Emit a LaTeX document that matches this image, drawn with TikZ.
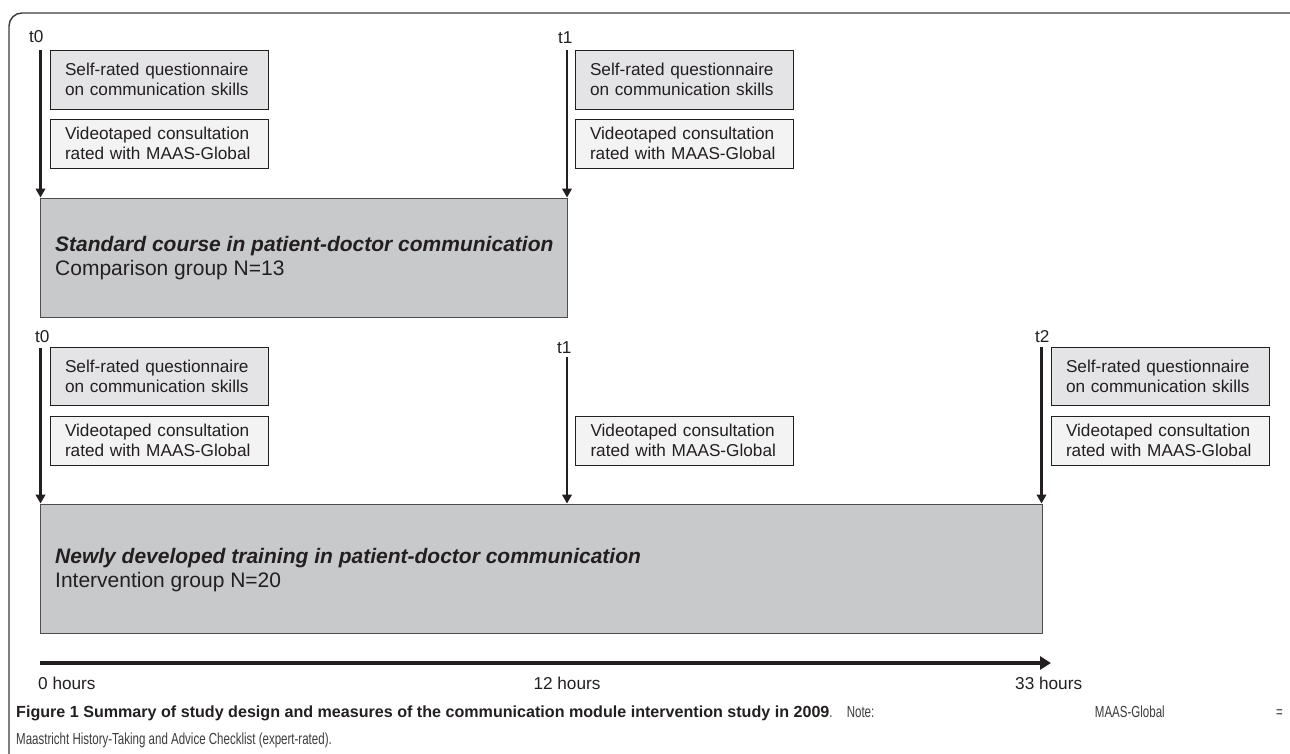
\documentclass[tikz,border=0pt]{standalone}
\usepackage{fontspec}
\setmainfont{Liberation Sans}
\newfontfamily\capfont[FakeStretch=0.72]{Liberation Sans}
\usetikzlibrary{arrows.meta}
\definecolor{ink}{HTML}{231F20}
\definecolor{rectgray}{HTML}{C8C9CB}
\definecolor{boxA}{HTML}{E4E4E6}
\definecolor{boxB}{HTML}{F3F3F4}
\definecolor{edge}{HTML}{4D4D4F}
\definecolor{frame}{HTML}{3A3A3A}
\definecolor{capgray}{HTML}{3C3C3C}
\begin{document}
\begin{tikzpicture}[x=1pt,y=-1pt,
  boxtxt/.style={font=\fontsize{17.2}{20}\selectfont, text=ink},
  qbox/.style={boxtxt, draw=ink, line width=0.8pt, minimum width=218pt,
    text width=188pt, inner xsep=15pt, inner ysep=0pt, align=left, fill=boxA},
  vbox/.style={qbox, fill=boxB},
  phase/.style={draw=edge, line width=0.9pt, fill=rectgray, inner sep=0pt},
  phasetxt/.style={font=\fontsize{21}{24}\selectfont, text=ink, align=left,
    anchor=west, inner sep=0pt},
  tlabel/.style={boxtxt, anchor=base west, inner sep=0pt},
  tarrow/.style={draw=ink, line width=2.2pt, -{Triangle[width=9.5pt,length=9pt]}},
  axis/.style={draw=ink, line width=4pt, -{Triangle[width=13pt,length=11pt]}},
  hours/.style={boxtxt, anchor=base, inner sep=0pt},
  captxt/.style={anchor=base west, inner sep=0pt, text=capgray}
]
\useasboundingbox (0,0) rectangle (1290,753);
% frame
\draw[frame, line width=1.4pt, rounded corners=13pt] (1292,13) -- (9,13) -- (9,755);

% ---------- comparison group ----------
\node[phase, minimum width=527pt, minimum height=119pt] (R1) at (303.5,257.5) {};
\node[phasetxt] (R1t) at (55,258.5) {\textbf{\textit{Standard course in patient-doctor communication}}\\Comparison group N=13};

\node[tlabel] (a0) at (29,42) {t0};
\node[tlabel] (a1) at (558,43) {t1};
\coordinate (as0) at (40.5,50);
\coordinate (as1) at (567,50);
\draw[tarrow] (as0) -- (as0 |- R1.north);
\draw[tarrow] (as1) -- (as1 |- R1.north);

\node[qbox, minimum height=59pt] (q10) at (159,79.5) {Self-rated questionnaire\\on communication skills};
\node[vbox, minimum height=49pt] (v10) at (159,143.5) {Videotaped consultation\\rated with MAAS-Global};
\node[qbox, minimum height=59pt] (q11) at (684,79.5) {Self-rated questionnaire\\on communication skills};
\node[vbox, minimum height=49pt] (v11) at (684,143.5) {Videotaped consultation\\rated with MAAS-Global};

% ---------- intervention group ----------
\node[phase, minimum width=1002pt, minimum height=129pt] (R2) at (541,568.5) {};
\node[phasetxt] (R2t) at (55,570) {\textbf{\textit{Newly developed training in patient-doctor communication}}\\Intervention group N=20};

\node[tlabel] (b0) at (35,342) {t0};
\node[tlabel] (b1) at (557,353) {t1};
\node[tlabel] (b2) at (1035,342) {t2};
\coordinate (bs0) at (40.5,348);
\coordinate (bs1) at (567,357);
\coordinate (bs2) at (1041.5,347);
\draw[tarrow] (bs0) -- (bs0 |- R2.north);
\draw[tarrow] (bs1) -- (bs1 |- R2.north);
\draw[tarrow] (bs2) -- (bs2 |- R2.north);

\node[qbox, minimum height=58pt] (q20) at (159,376) {Self-rated questionnaire\\on communication skills};
\node[vbox, minimum height=49pt] (v20) at (159,440.5) {Videotaped consultation\\rated with MAAS-Global};
\node[vbox, minimum height=49pt] (v21) at (684.5,440.5) {Videotaped consultation\\rated with MAAS-Global};
\node[qbox, minimum height=58pt] (q22) at (1160,376) {Self-rated questionnaire\\on communication skills};
\node[vbox, minimum height=49pt] (v22) at (1160,440.5) {Videotaped consultation\\rated with MAAS-Global};

% ---------- time axis ----------
\coordinate (ax0) at (40,663);
\coordinate (ax1) at (1051,663);
\draw[axis] (ax0) -- (ax1);
\node[hours, anchor=base west] (h0) at (38,689) {0 hours};
\node[hours] (h12) at (567,689) {12 hours};
\node[hours, anchor=base west] (h33) at (1015,689) {33 hours};

% ---------- caption ----------
\node[captxt, text=ink] (cap1a) at (16,717) {\fontsize{16.1}{20}\selectfont\textbf{Figure 1 Summary of study design and measures of the communication module intervention study in 2009}\textcolor{capgray}{\capfont.}};
\node[captxt, anchor=base east] (cap1b) at (1283,717) {\capfont\fontsize{16}{20}\selectfont\makebox[436pt][s]{Note: MAAS-Global =}};
\node[captxt] (cap2) at (16,744) {\capfont\fontsize{16}{20}\selectfont Maastricht History-Taking and Advice Checklist (expert-rated).};
\end{tikzpicture}
\end{document}
